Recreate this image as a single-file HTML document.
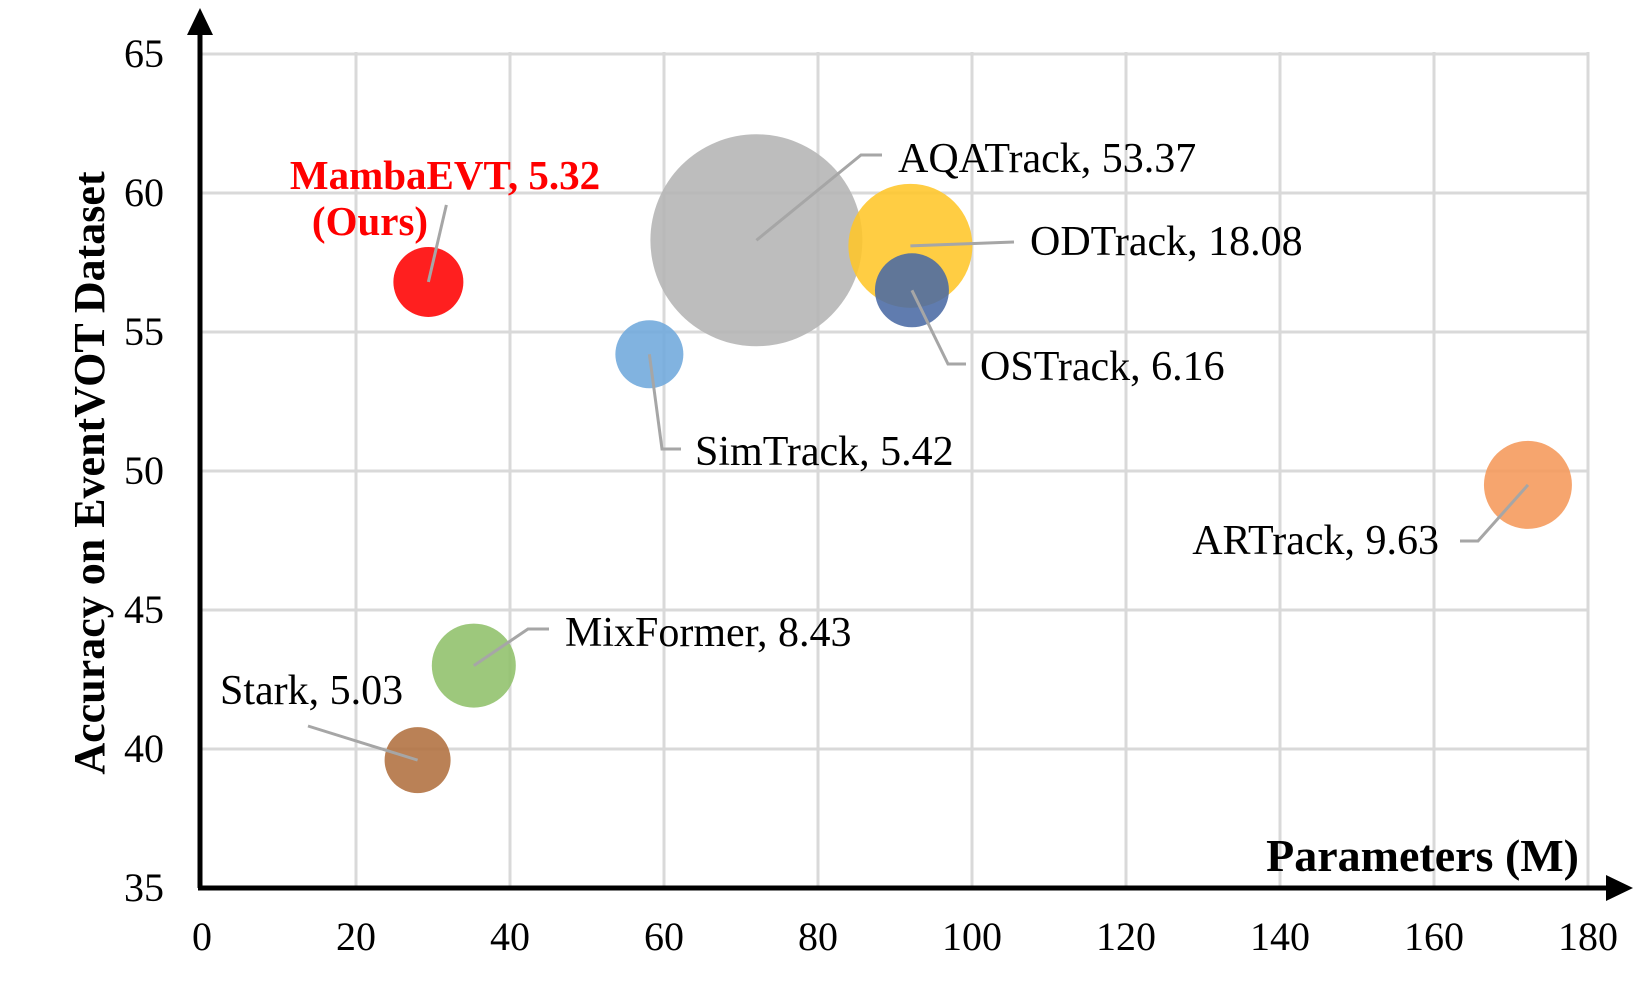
<!DOCTYPE html>
<html><head><meta charset="utf-8"><style>
html,body{margin:0;padding:0;background:#fff;}
svg{display:block;}
text{font-family:"Liberation Serif",serif;}
</style></head><body>
<svg id="chart" width="1648" height="981" viewBox="0 0 1648 981" xmlns="http://www.w3.org/2000/svg">
<g id="grid"></g>
<g id="bubbles"></g>
<g id="leaders"></g>
<g id="labels"></g>
<g id="axes">
  <line x1="200" y1="888" x2="200" y2="30" stroke="#000" stroke-width="5"/>
  <polygon points="200,8 187,35 213,35" fill="#000"/>
  <line x1="198" y1="888" x2="1610" y2="888" stroke="#000" stroke-width="5"/>
  <polygon points="1633,888 1606,875 1606,901" fill="#000"/>
</g>
<g id="ticks"></g>
<text transform="translate(104,473) rotate(-90)" text-anchor="middle" font-size="44" font-weight="bold">Accuracy on EventVOT Dataset</text>
<text x="1579" y="871" text-anchor="end" font-size="46" font-weight="bold">Parameters (M)</text>
</svg>
<script>
const names = ["MambaEVT","Stark","MixFormer","SimTrack","AQATrack","ODTrack","OSTrack","ARTrack"];
const params = [29.4, 28.0, 35.3, 58.1, 72.0, 92.0, 92.2, 172.2];
const accuracy = [56.8, 39.6, 43.0, 54.2, 58.3, 58.1, 56.5, 49.5];
const fps = [5.32, 5.03, 8.43, 5.42, 53.37, 18.08, 6.16, 9.63];
const radii = [35, 33, 42, 34, 106, 62, 37, 44];
const colors = ["#ff0000","#b0703f","#8fc06a","#6fa8dc","#b4b4b4","#ffc629","#4a6aa4","#f5995a"];
const xTicks = [0,20,40,60,80,100,120,140,160,180];
const yTicks = [35,40,45,50,55,60,65];

const X = v => 202 + v*7.7;
const Y = v => 888 - (v-35)*27.8;
const NS = "http://www.w3.org/2000/svg";
function mk(tag, parent, attrs){const e=document.createElementNS(NS,tag);for(const k in attrs)e.setAttribute(k,attrs[k]);parent.appendChild(e);return e;}

const grid=document.getElementById('grid');
yTicks.forEach(t=>{ if(t===35) return;
  const l=mk('line',grid,{x1:202,x2:1588,y1:Y(t),y2:Y(t),stroke:'#d9d9d9','stroke-width':3});
  
  
});
xTicks.forEach(t=>{ if(t===0) return;
  const l=mk('line',grid,{x1:X(t),x2:X(t),y1:52,y2:888,stroke:'#d9d9d9','stroke-width':3});
  
  
});
const ticks=document.getElementById('ticks');
yTicks.forEach(t=>{
  const e=mk('text',ticks,{x:164,y:Y(t)+13,'text-anchor':'end','font-size':40});
  e.textContent=t;
  
  
});
xTicks.forEach(t=>{
  const e=mk('text',ticks,{x:X(t),y:950,'text-anchor':'middle','font-size':40});
  e.textContent=t;
  
  
});
const bub=document.getElementById('bubbles');
names.forEach((n,i)=>{
  const c=mk('circle',bub,{cx:X(params[i]),cy:Y(accuracy[i]),r:radii[i],fill:colors[i],'fill-opacity':0.88});
  
  
});
const lay = {
  Stark:{lx:220,ly:704,a:'start',pts:[[308,726]]},
  MixFormer:{lx:565,ly:646,a:'start',pts:[[528,629],[549,629]]},
  SimTrack:{lx:695,ly:465,a:'start',pts:[[662,449],[681,449]]},
  AQATrack:{lx:898,ly:172,a:'start',pts:[[861,155],[882,155]]},
  ODTrack:{lx:1030,ly:255,a:'start',pts:[[1014,242]]},
  OSTrack:{lx:980,ly:380,a:'start',pts:[[948,364],[966,364]]},
  ARTrack:{lx:1439,ly:554,a:'end',pts:[[1478,541],[1460,541]]}
};
const ld=document.getElementById('leaders'), lb=document.getElementById('labels');
names.forEach((n,i)=>{
  const cx=X(params[i]), cy=Y(accuracy[i]);
  if(n==="MambaEVT"){
    const p=mk('polyline',ld,{points:`${cx},${cy} ${cx+18},${cy-77}`,fill:'none',stroke:'#a6a6a6','stroke-width':3});
    
    
    const t=mk('text',lb,{x:445,y:189,'text-anchor':'middle','font-size':41,'font-weight':'bold',fill:'#ff0000'});
    t.textContent=n+", "+fps[i].toFixed(2);
    
    
    const t2=mk('text',lb,{x:370,y:235,'text-anchor':'middle','font-size':41,'font-weight':'bold',fill:'#ff0000'});
    t2.textContent="(Ours)";
    
    
    return;
  }
  const L=lay[n];
  const pts=[[cx,cy]].concat(L.pts).map(p=>p.join(',')).join(' ');
  const p=mk('polyline',ld,{points:pts,fill:'none',stroke:'#a6a6a6','stroke-width':3});
  
  
  const t=mk('text',lb,{x:L.lx,y:L.ly,'text-anchor':L.a,'font-size':42});
  t.textContent=n+", "+fps[i].toFixed(2);
  
  
});
</script>
</body></html>
